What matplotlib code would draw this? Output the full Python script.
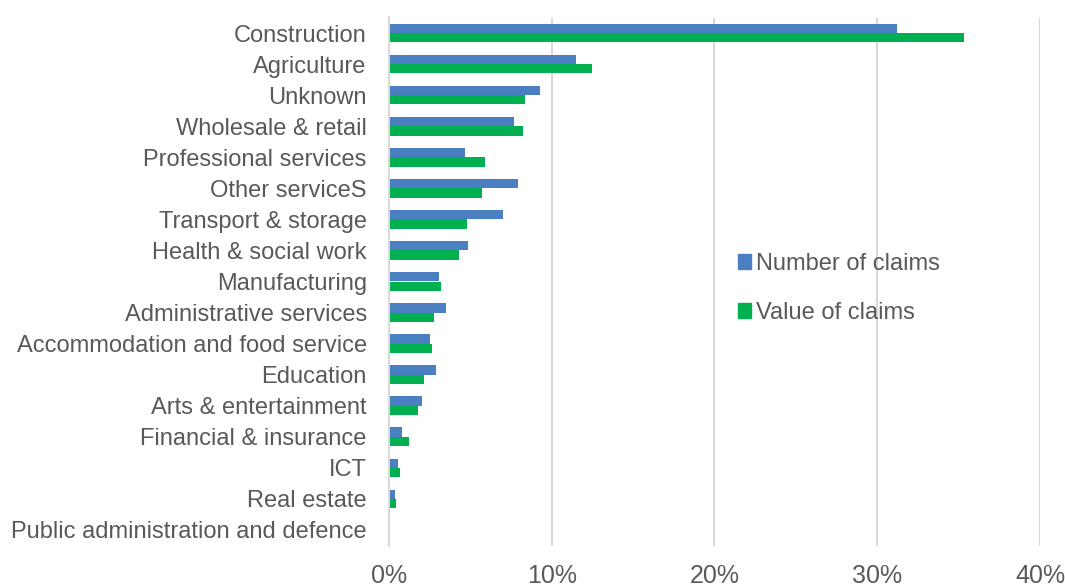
import numpy as np
import matplotlib.pyplot as plt
from matplotlib.patches import Patch
from matplotlib.ticker import PercentFormatter

plt.rcParams['font.family'] = ['Liberation Sans', 'DejaVu Sans']

# Sectors, top to bottom
sectors = [
    "Construction", "Agriculture", "Unknown", "Wholesale & retail",
    "Professional services", "Other serviceS", "Transport & storage",
    "Health & social work", "Manufacturing", "Administrative services",
    "Accommodation and food service", "Education", "Arts & entertainment",
    "Financial & insurance", "ICT", "Real estate",
    "Public administration and defence",
]
# Share of claims, %
number_of_claims = [31.2, 11.5, 9.25, 7.67, 4.69, 7.9, 7.02, 4.85, 3.05,
                    3.5, 2.52, 2.9, 2.0, 0.82, 0.57, 0.37, 0.08]
value_of_claims = [35.3, 12.5, 8.33, 8.25, 5.87, 5.71, 4.77, 4.3, 3.19,
                   2.76, 2.64, 2.17, 1.76, 1.21, 0.67, 0.45, 0.08]

blue = "#4A7FC1"
green = "#00B050"
text_col = "#595959"
grid_col = "#D9D9D9"
fs = 17

fig = plt.figure(figsize=(10.65, 5.86), dpi=100)
ax = fig.add_axes([389 / 1065, 40.5 / 586, 651 / 1065, 528 / 586])

y = np.arange(len(sectors))
h = 0.30
ax.barh(y - h / 2, number_of_claims, height=h, color=blue, zorder=3)
ax.barh(y + h / 2, value_of_claims, height=h, color=green, zorder=3)

ax.set_xlim(0, 40)
ax.set_ylim(len(sectors) - 0.5, -0.5)
ax.set_xticks([0, 10, 20, 30, 40])
ax.xaxis.set_major_formatter(PercentFormatter(decimals=0))
ax.set_yticks(y)
ax.set_yticklabels(sectors)

ax.grid(axis="x", color=grid_col, linewidth=1.5, zorder=0)
for s in ["top", "right", "bottom"]:
    ax.spines[s].set_visible(False)
ax.spines["left"].set_color(grid_col)
ax.spines["left"].set_linewidth(1.5)
ax.spines["left"].set_zorder(4)
ax.tick_params(axis="y", length=0, pad=16, labelsize=fs, labelcolor=text_col)
ax.tick_params(axis="x", length=0, pad=13, labelsize=18, labelcolor=text_col)

handles = [Patch(color=blue, label="Number of claims"),
           Patch(color=green, label="Value of claims")]
ax.legend(handles=handles, loc="center left", bbox_to_anchor=(0.504, 0.487),
          frameon=False, fontsize=fs, labelcolor=text_col,
          handlelength=0.55, handleheight=0.55, handletextpad=0.2,
          labelspacing=1.15)

fig.savefig("out.png", dpi=100)
